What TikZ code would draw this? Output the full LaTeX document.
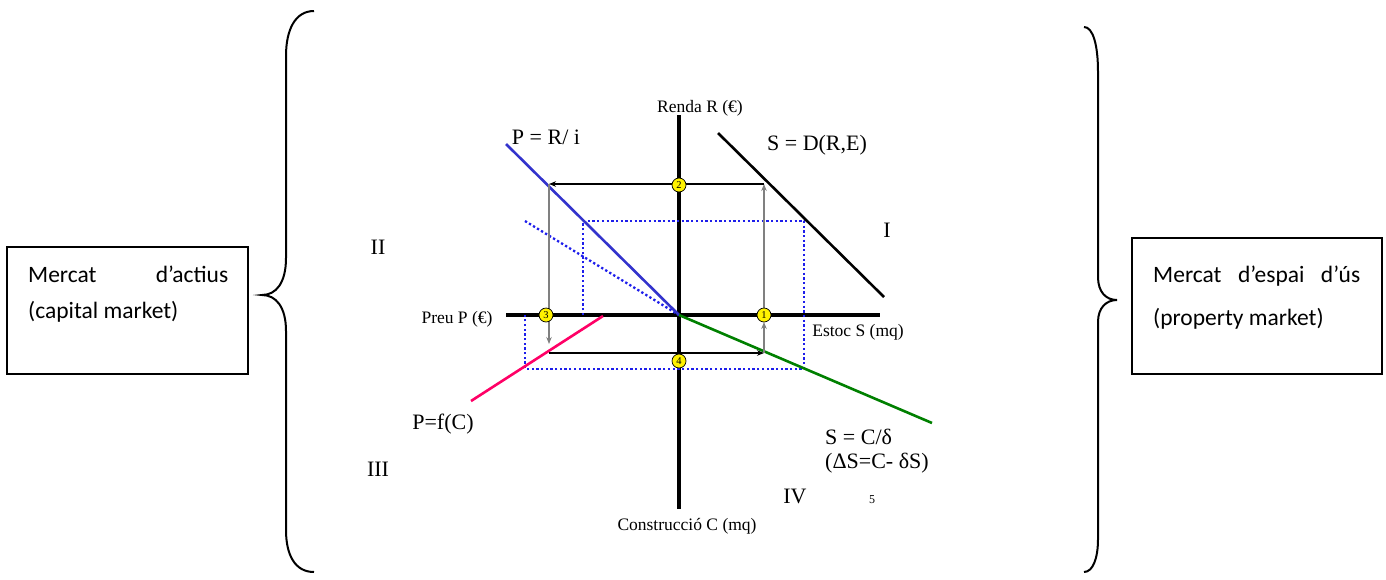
\documentclass[tikz,border=0pt]{standalone}
\usepackage{fontspec}
\setmainfont{Liberation Serif}
\newfontfamily\boxfont{Carlito}
\usetikzlibrary{positioning,calc,arrows.meta}
\definecolor{rentblue}{RGB}{51,51,204}
\definecolor{dotblue}{RGB}{30,30,235}
\definecolor{costpink}{RGB}{255,0,102}
\definecolor{stockgreen}{RGB}{0,128,0}

\begin{document}
\begin{tikzpicture}[x=1pt, y=-1pt, every node/.style={inner sep=0pt}, axis/.style={line width=3.4pt}, curve/.style={line width=2.6pt}, lab/.style={font=\fontsize{17.5}{20}\selectfont}, eq/.style={font=\fontsize{22}{26}\selectfont}, num/.style={circle, draw, line width=0.7pt, fill=yellow, minimum size=14pt, font=\fontsize{10.5}{10.5}\selectfont}, arr/.style={-{Stealth[length=7pt,width=5.5pt]}, line width=1.3pt}, dots/.style={dotblue, line width=2.3pt, dash pattern=on 2.3pt off 2.4pt}, mbox/.style={draw, line width=1.3pt}, boxtxt/.style={font=\boxfont\fontsize{23.5}{28}\selectfont}, brace/.style={line width=2pt}]
    \useasboundingbox (0,0) rectangle (1386,579);
    % axes
    \coordinate (O) at (679,315);
    \coordinate (Rtop) at (679,115);
    \coordinate (Cbot) at (679,509);
    \coordinate (Pend) at (506,315);
    \coordinate (Send) at (880,315);
    \draw[axis] (Rtop) -- (Cbot);
    \draw[axis] (Pend) -- (Send);
    % market curves
    \coordinate (valA) at (506,144);
    \coordinate (demA) at (718,133);
    \coordinate (demB) at (884,297);
    \coordinate (costA) at (603,316);
    \coordinate (costB) at (471,401);
    \coordinate (stkB) at (932,423);
    \coordinate (valD) at (525,221);
    \draw[dots] (valD) -- (O);
    \draw[dots] (583,315) -- (583,221) -- (804,221) -- (804,369) -- (525,369) -- (525,315);
    \draw[curve, rentblue] (valA) -- (O);
    \draw[curve] (demA) -- (demB);
    \draw[curve, costpink] (costA) -- (costB);
    \draw[curve, stockgreen] (O) -- (stkB);
    % the four-quadrant loop
    \coordinate (p1) at (764,315);
    \coordinate (p2) at (679,185);
    \coordinate (p3) at (546,315);
    \coordinate (p4) at (679,361);
    \coordinate (a1) at (764,184);
    \coordinate (a2) at (549,184);
    \coordinate (a3) at (549,353);
    \coordinate (a4) at (764,353);
    \draw[arr, gray] (p1) -- (a1);
    \draw[arr] (a1) -- (a2);
    \draw[arr, gray, shorten >=9pt] (a2) -- (a3);
    \draw[arr] (a3) -- (a4);
    \draw[arr, gray, shorten >=7pt] (a4) -- (p1);
    \node[num] (n1) at (p1) {1};
    \node[num] (n2) at (p2) {2};
    \node[num] (n3) at (p3) {3};
    \node[num] (n4) at (p4) {4};
    % labels
    \node[lab] (rent) at (700,108) {Renda R (€)};
    \node[lab] (stock) at (858,332) {Estoc S (mq)};
    \node[lab] (price) at (457,319) {Preu P (€)};
    \node[lab] (constr) at (687,526) {Construcció C (mq)};
    \node[eq] (valeq) at (546,137) {P = R/ i};
    \node[eq] (demeq) at (817,145) {S = D(R,E)};
    \node[eq] (costeq) at (443,424) {P=f(C)};
    \node[eq, anchor=west] (stkeq) at (825,437) {S = C/δ};
    \node[eq, anchor=west] (stkeq2) at (825,463) {(ΔS=C- δS)};
    \node[eq] (q1) at (887,230) {I};
    \node[eq] (q2) at (378,247) {II};
    \node[eq] (q3) at (378,469) {III};
    \node[eq] (q4) at (795,496) {IV};
    \node[font=\fontsize{12}{12}\selectfont] (pgno) at (872,500) {5};
    % side boxes and braces
    \node[mbox, minimum width=241pt, minimum height=127pt] (capbox) at (127.5,310.5) {};
    \node[boxtxt, anchor=base west] (capl1) at (28,282) {\makebox[200pt][s]{Mercat d’actius}};
    \node[boxtxt, anchor=base west] (capl2) at (28,318.5) {(capital market)};
    \node[mbox, minimum width=250pt, minimum height=136pt] (propbox) at (1257,306) {};
    \node[boxtxt, anchor=base west] (propl1) at (1153,282) {\makebox[207pt][s]{Mercat d’espai d’ús}};
    \node[boxtxt, anchor=base west] (propl2) at (1153,325) {(property market)};
    \draw[brace] (314,11) .. controls (295,11) and (286,30) .. (286,56) -- (286,258) .. controls (286,283) and (276,295) .. (262,295) .. controls (276,295) and (286,307) .. (286,331) -- (286,530) .. controls (286,555) and (295,572) .. (314,572);
    \draw[brace] (1084,27) .. controls (1093,27) and (1098,45) .. (1098,72) -- (1098,277) .. controls (1098,292) and (1106,300) .. (1117,300) .. controls (1106,300) and (1098,308) .. (1098,322) -- (1098,539) .. controls (1098,558) and (1093,572) .. (1084,572);
\end{tikzpicture}
\end{document}
